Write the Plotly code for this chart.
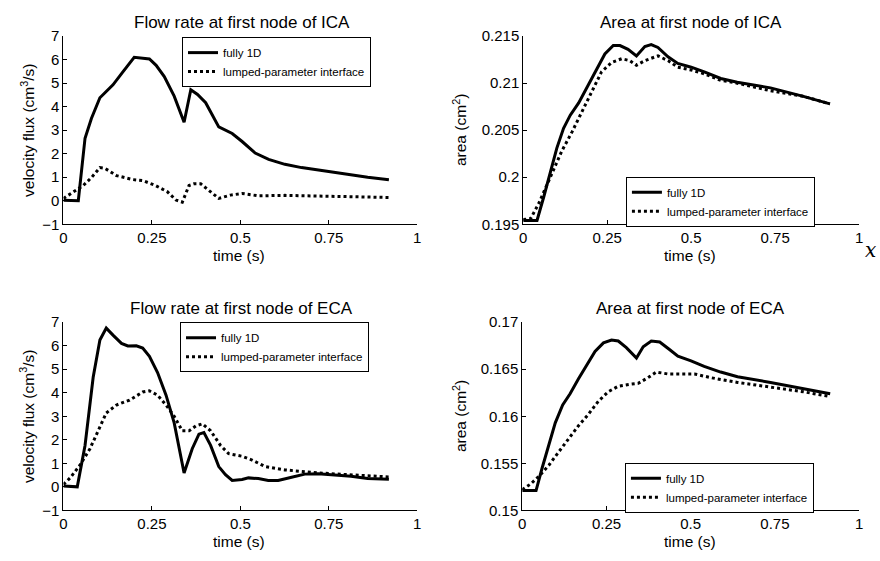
import plotly.graph_objects as go

# ---------------- data ----------------
# Flow rate ICA
t_ica_q_1d = [0, 0.042, 0.061, 0.079, 0.103, 0.14, 0.168, 0.20, 0.243, 0.262, 0.285, 0.313, 0.341, 0.36, 0.379, 0.402, 0.439, 0.477, 0.505, 0.542, 0.58, 0.626, 0.673, 0.766, 0.86, 0.92]
q_ica_1d = [0.02, 0.0, 2.66, 3.5, 4.38, 4.93, 5.48, 6.1, 6.03, 5.76, 5.28, 4.45, 3.34, 4.72, 4.52, 4.17, 3.14, 2.86, 2.52, 2.03, 1.76, 1.55, 1.41, 1.2, 1.0, 0.89]
t_ica_q_lp = [0, 0.02, 0.056, 0.08, 0.103, 0.117, 0.15, 0.196, 0.224, 0.26, 0.294, 0.318, 0.336, 0.355, 0.369, 0.388, 0.411, 0.439, 0.472, 0.505, 0.551, 0.626, 0.72, 0.813, 0.92]
q_ica_lp = [0.1, 0.3, 0.65, 1.0, 1.41, 1.38, 1.07, 0.9, 0.86, 0.65, 0.38, 0.03, -0.06, 0.65, 0.72, 0.72, 0.45, 0.1, 0.24, 0.31, 0.21, 0.23, 0.2, 0.17, 0.14]

# Area ICA
t_ica_a_1d = [0, 0.041, 0.061, 0.081, 0.1, 0.12, 0.14, 0.165, 0.194, 0.219, 0.243, 0.268, 0.288, 0.312, 0.337, 0.362, 0.381, 0.401, 0.431, 0.46, 0.5, 0.539, 0.588, 0.637, 0.736, 0.834, 0.913]
a_ica_1d = [0.1954, 0.1954, 0.1979, 0.2007, 0.2031, 0.2052, 0.2066, 0.2079, 0.2098, 0.2116, 0.2131, 0.2140, 0.2140, 0.2136, 0.2129, 0.2139, 0.2141, 0.2138, 0.2128, 0.2121, 0.2117, 0.2112, 0.2105, 0.2101, 0.2095, 0.2086, 0.2078]
t_ica_a_lp = [0, 0.022, 0.046, 0.066, 0.091, 0.115, 0.145, 0.174, 0.204, 0.233, 0.263, 0.293, 0.317, 0.337, 0.362, 0.401, 0.431, 0.46, 0.5, 0.539, 0.588, 0.637, 0.736, 0.834, 0.913]
a_ica_lp = [0.1955, 0.1956, 0.1972, 0.1988, 0.2007, 0.2028, 0.2048, 0.2069, 0.2090, 0.2112, 0.2122, 0.2126, 0.2124, 0.2119, 0.2124, 0.2129, 0.2124, 0.2117, 0.2114, 0.2110, 0.2103, 0.2100, 0.2092, 0.2086, 0.2078]

# Flow rate ECA
t_eca_q_1d = [0, 0.039, 0.061, 0.084, 0.103, 0.121, 0.14, 0.164, 0.182, 0.206, 0.224, 0.243, 0.266, 0.29, 0.313, 0.341, 0.364, 0.383, 0.397, 0.416, 0.439, 0.458, 0.477, 0.505, 0.523, 0.551, 0.579, 0.607, 0.645, 0.682, 0.72, 0.766, 0.813, 0.86, 0.92]
q_eca_1d = [0.03, 0.0, 1.76, 4.66, 6.24, 6.75, 6.45, 6.1, 5.99, 6.0, 5.9, 5.55, 4.86, 3.9, 2.72, 0.59, 1.62, 2.24, 2.31, 1.76, 0.86, 0.52, 0.27, 0.31, 0.38, 0.35, 0.27, 0.27, 0.41, 0.54, 0.56, 0.52, 0.45, 0.35, 0.32]
t_eca_q_lp = [0, 0.019, 0.047, 0.075, 0.098, 0.121, 0.15, 0.187, 0.224, 0.243, 0.266, 0.29, 0.313, 0.336, 0.355, 0.374, 0.393, 0.416, 0.444, 0.467, 0.505, 0.533, 0.57, 0.626, 0.72, 0.813, 0.92]
q_eca_lp = [0.1, 0.38, 0.93, 1.62, 2.38, 3.14, 3.48, 3.69, 4.03, 4.08, 3.9, 3.48, 3.0, 2.38, 2.38, 2.59, 2.68, 2.38, 1.76, 1.41, 1.3, 1.14, 0.86, 0.72, 0.59, 0.52, 0.42]

# Area ECA
t_eca_a_1d = [0, 0.041, 0.059, 0.079, 0.098, 0.12, 0.142, 0.167, 0.192, 0.216, 0.241, 0.265, 0.285, 0.309, 0.339, 0.359, 0.383, 0.408, 0.437, 0.462, 0.501, 0.54, 0.589, 0.639, 0.737, 0.835, 0.914]
a_eca_1d = [0.1521, 0.1521, 0.1545, 0.1569, 0.1593, 0.1612, 0.1624, 0.1640, 0.1655, 0.1669, 0.1678, 0.1681, 0.1680, 0.1673, 0.1662, 0.1674, 0.1680, 0.1679, 0.1671, 0.1664, 0.1659, 0.1653, 0.1647, 0.1642, 0.1636, 0.1629, 0.1624]
t_eca_a_lp = [0, 0.025, 0.049, 0.079, 0.108, 0.138, 0.167, 0.196, 0.226, 0.255, 0.285, 0.319, 0.344, 0.373, 0.398, 0.432, 0.472, 0.511, 0.56, 0.639, 0.737, 0.835, 0.914]
a_eca_lp = [0.1522, 0.1528, 0.1536, 0.1548, 0.1562, 0.1576, 0.1590, 0.1602, 0.1616, 0.1626, 0.1632, 0.1634, 0.1635, 0.1641, 0.1647, 0.1645, 0.1645, 0.1645, 0.1641, 0.1636, 0.1631, 0.1626, 0.1621]

x_tickvals = [0, 0.25, 0.5, 0.75, 1]
x_ticktext = ["0", "0.25", "0.5", "0.75", "1"]
q_tickvals = [-1, 0, 1, 2, 3, 4, 5, 6, 7]
q_ticktext = ["\u22121", "0", "1", "2", "3", "4", "5", "6", "7"]
a_ica_tickvals = [0.195, 0.2, 0.205, 0.21, 0.215]
a_ica_ticktext = ["0.195", "0.2", "0.205", "0.21", "0.215"]
a_eca_tickvals = [0.15, 0.155, 0.16, 0.165, 0.17]
a_eca_ticktext = ["0.15", "0.155", "0.16", "0.165", "0.17"]

titles = ["Flow rate at first node of ICA", "Area at first node of ICA",
          "Flow rate at first node of ECA", "Area at first node of ECA"]
name_1d = "fully 1D"
name_lp = "lumped-parameter interface"

# ---------------- figure ----------------
W, H = 880, 561
FONT = "Liberation Sans, Arial, Helvetica, sans-serif"

def px_x(p):
    return p / W

def px_y(p):
    return 1 - p / H

fig = go.Figure()

panels = [
    ("x", "y", "legend", t_ica_q_1d, q_ica_1d, t_ica_q_lp, q_ica_lp),
    ("x2", "y2", "legend2", t_ica_a_1d, a_ica_1d, t_ica_a_lp, a_ica_lp),
    ("x3", "y3", "legend3", t_eca_q_1d, q_eca_1d, t_eca_q_lp, q_eca_lp),
    ("x4", "y4", "legend4", t_eca_a_1d, a_eca_1d, t_eca_a_lp, a_eca_lp),
]
for xa, ya, lg, t1, v1, t2, v2 in panels:
    fig.add_trace(go.Scatter(x=t1, y=v1, mode="lines", name=name_1d,
                             line=dict(color="black", width=3),
                             xaxis=xa, yaxis=ya, legend=lg))
    fig.add_trace(go.Scatter(x=t2, y=v2, mode="lines", name=name_lp,
                             line=dict(color="black", width=3, dash="3px,3px"),
                             xaxis=xa, yaxis=ya, legend=lg))

# axis pixel boxes: (left, right, top, bottom)
boxes = [(60, 417, 28, 222), (524, 863, 28, 222), (60, 417, 323, 517), (523, 863, 323, 517)]
yranges = [[-1, 7], [0.195, 0.215], [-1, 7], [0.15, 0.17]]
ytv = [(q_tickvals, q_ticktext), (a_ica_tickvals, a_ica_ticktext),
       (q_tickvals, q_ticktext), (a_eca_tickvals, a_eca_ticktext)]

common_axis = dict(showline=True, linecolor="black", linewidth=1, ticks="inside",
                   ticklen=4, tickcolor="black", showgrid=False, zeroline=False,
                   tickfont=dict(family=FONT, size=15, color="black"))

layout = {}
for i, (l, r, t, b) in enumerate(boxes):
    sfx = "" if i == 0 else str(i + 1)
    layout["xaxis" + sfx] = dict(domain=[px_x(l), px_x(r)], range=[0, 1],
                                 tickvals=x_tickvals, ticktext=x_ticktext,
                                 anchor="y" + sfx, **common_axis)
    layout["yaxis" + sfx] = dict(domain=[px_y(b), px_y(t)], range=yranges[i],
                                 tickvals=ytv[i][0], ticktext=ytv[i][1],
                                 anchor="x" + sfx, **common_axis)

# legend box: (centre x, top y) in pixels
legend_pos = [(275, 29), (723, 173), (273, 323), (722, 468)]
for i, (lx, ly) in enumerate(legend_pos):
    key = "legend" if i == 0 else "legend" + str(i + 1)
    layout[key] = dict(x=px_x(lx), y=px_y(ly), xanchor="center", yanchor="top",
                       bgcolor="white", bordercolor="black", borderwidth=1,
                       font=dict(family=FONT, size=11.5, color="black"),
                       tracegroupgap=0, itemwidth=30)

fig.update_layout(width=W, height=H, margin=dict(l=0, r=0, t=0, b=0),
                  plot_bgcolor="white", paper_bgcolor="white",
                  showlegend=True, **layout)

ann = []
title_pos = [(240, 14), (693, 14), (240, 309), (693, 309)]
for txt, (x, y) in zip(titles, title_pos):
    ann.append(dict(text=txt, x=px_x(x), y=px_y(y), xref="paper", yref="paper",
                    showarrow=False, xanchor="center", yanchor="middle",
                    font=dict(family=FONT, size=17, color="black")))
ylab = [("velocity flux (cm<sup>3</sup>/s)", 24, 125),
        ("area (cm<sup>2</sup>)", 460, 125),
        ("velocity flux (cm<sup>3</sup>/s)", 24, 420),
        ("area (cm<sup>2</sup>)", 460, 420)]
for txt, x, y in ylab:
    ann.append(dict(text=txt, x=px_x(x), y=px_y(y), xref="paper", yref="paper",
                    showarrow=False, xanchor="center", yanchor="middle", textangle=-90,
                    font=dict(family=FONT, size=15.5, color="black")))
for x, y in [(237, 254), (692, 254), (237, 549), (692, 549)]:
    ann.append(dict(text="time (s)", x=px_x(x), y=px_y(y), xref="paper", yref="paper",
                    showarrow=False, xanchor="center", yanchor="middle",
                    font=dict(family=FONT, size=15.5, color="black")))
ann.append(dict(text="<i>x</i>", x=px_x(874), y=px_y(249), xref="paper", yref="paper",
                showarrow=False, xanchor="center", yanchor="middle",
                font=dict(family="DejaVu Serif, Liberation Serif, serif", size=20, color="black")))
fig.update_layout(annotations=ann)

fig.write_html("out.html",
               config={"displayModeBar": False},
               post_script="document.body.style.margin='0';document.body.style.padding='0';"
                           "document.documentElement.style.overflow='hidden';")
